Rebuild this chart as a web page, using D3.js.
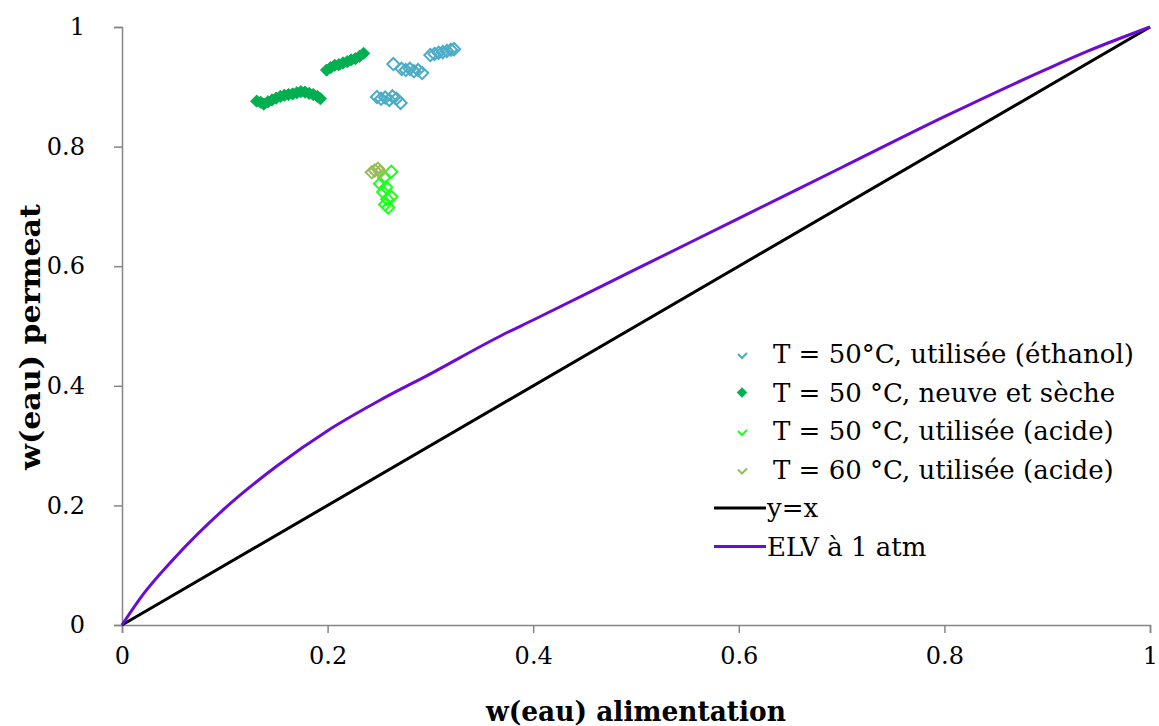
<!DOCTYPE html>
<html><head><meta charset="utf-8">
<script src="https://cdn.jsdelivr.net/npm/d3@7"></script>
<style>body{margin:0;background:#fff}svg{display:block}</style>
</head><body>
<svg id="c" width="1159" height="726"></svg>
<script>
const xTicks = [0, 0.2, 0.4, 0.6, 0.8, 1];
const yTicks = [0, 0.2, 0.4, 0.6, 0.8, 1];
const xTickLabels = ["0", "0.2", "0.4", "0.6", "0.8", "1"];
const yTickLabels = ["0", "0.2", "0.4", "0.6", "0.8", "1"];
const seriesNames = ["T = 50°C, utilisée (éthanol)", "T = 50 °C, neuve et sèche", "T = 50 °C, utilisée (acide)", "T = 60 °C, utilisée (acide)", "y=x", "ELV à 1 atm"];

const ethanolX = [0.248,0.252,0.256,0.260,0.263,0.267,0.271, 0.264,0.272,0.276,0.280,0.284,0.288,0.292, 0.300,0.304,0.308,0.312,0.316,0.320,0.323];
const ethanolY = [0.883,0.880,0.882,0.878,0.884,0.880,0.873, 0.938,0.930,0.928,0.930,0.926,0.928,0.923, 0.953,0.955,0.957,0.958,0.960,0.962,0.963];

const neuveX = [0.131,0.135,0.138,0.142,0.146,0.150,0.154,0.158,0.162,0.166,0.170,0.174,0.178,0.182,0.186,0.190,0.193, 0.199,0.203,0.207,0.211,0.215,0.219,0.223,0.227,0.231,0.235];
const neuveY = [0.876,0.874,0.871,0.875,0.878,0.881,0.884,0.886,0.887,0.888,0.890,0.892,0.891,0.889,0.887,0.884,0.880, 0.928,0.932,0.936,0.937,0.940,0.942,0.945,0.947,0.951,0.956];

const acide50X = [0.262,0.255,0.251,0.257,0.254,0.262,0.258,0.256,0.259];
const acide50Y = [0.758,0.748,0.738,0.732,0.724,0.716,0.712,0.703,0.698];

const acide60X = [0.243,0.246,0.249,0.251];
const acide60Y = [0.757,0.760,0.763,0.758];

const diagX = [0, 1];
const diagY = [0, 1];

const elvX = [0, 0.02, 0.05, 0.1, 0.15, 0.2, 0.25, 0.3, 0.37, 0.4, 0.5, 0.6, 0.7, 0.8, 0.9, 0.94, 1];
const elvY = [0, 0.05, 0.11, 0.195, 0.265, 0.325, 0.375, 0.42, 0.485, 0.51, 0.595, 0.68, 0.765, 0.85, 0.93, 0.96, 1];

const colors = {eth:"#4BACC6", neuve:"#00B050", a50:"#1EFF1E", a60:"#9BBB59", diag:"#000000", elv:"#6A0BD6"};

const svg = d3.select("#c");
const x = d3.scaleLinear().domain([0,1]).range([122,1150]);
const y = d3.scaleLinear().domain([0,1]).range([625,27]);
const serif = "DejaVu Serif";
const axisColor = "#868686";

// axes
const xa = svg.append("g").attr("transform","translate(0,625)")
  .call(d3.axisBottom(x).tickValues(xTicks).tickFormat((d,i)=>xTickLabels[i]).tickSize(8).tickPadding(14));
const ya = svg.append("g").attr("transform","translate(122,0)")
  .call(d3.axisLeft(y).tickValues(yTicks).tickFormat((d,i)=>yTickLabels[i]).tickSize(8).tickPadding(29));
[xa,ya].forEach(g=>{
  g.attr("font-family",serif).attr("font-size",24);
  g.selectAll("path,line").attr("stroke",axisColor).attr("stroke-width",1.5);
  g.selectAll("text").attr("fill","#000");
});

// axis titles
svg.append("text").attr("x",636).attr("y",721).attr("text-anchor","middle")
  .attr("font-family",serif).attr("font-weight","bold").attr("font-size",27)
  .attr("textLength",300).attr("lengthAdjust","spacingAndGlyphs").text("w(eau) alimentation");
svg.append("text").attr("transform","translate(40,337) rotate(-90)").attr("text-anchor","middle")
  .attr("font-family",serif).attr("font-weight","bold").attr("font-size",27)
  .attr("textLength",266).attr("lengthAdjust","spacingAndGlyphs").text("w(eau) permeat");

// lines
const line = d3.line().x(d=>x(d[0])).y(d=>y(d[1]));
svg.append("path").datum(diagX.map((v,i)=>[v,diagY[i]])).attr("d",line)
  .attr("fill","none").attr("stroke",colors.diag).attr("stroke-width",3);
svg.append("path").datum(elvX.map((v,i)=>[v,elvY[i]])).attr("d",line.curve(d3.curveMonotoneX))
  .attr("fill","none").attr("stroke",colors.elv).attr("stroke-width",3);

// markers
const dia = d3.symbol().type(d3.symbolDiamond2).size(95);
function pts(xs, ys, col, filled){
  svg.append("g").selectAll("path").data(xs.map((v,i)=>[v,ys[i]])).join("path")
    .attr("d",dia).attr("transform",d=>`translate(${x(d[0])},${y(d[1])})`)
    .attr("fill",filled?col:"none").attr("stroke",col).attr("stroke-width",filled?1:2);
}
pts(ethanolX, ethanolY, colors.eth, false);
pts(neuveX, neuveY, colors.neuve, true);
pts(acide50X, acide50Y, colors.a50, false);
pts(acide60X, acide60Y, colors.a60, false);

// legend
const lg = svg.append("g").attr("font-family",serif).attr("font-size",26);
const rows = [
  {t:seriesNames[0], c:colors.eth, k:"open"},
  {t:seriesNames[1], c:colors.neuve, k:"fill"},
  {t:seriesNames[2], c:colors.a50, k:"open"},
  {t:seriesNames[3], c:colors.a60, k:"open"},
  {t:seriesNames[4], c:colors.diag, k:"line"},
  {t:seriesNames[5], c:colors.elv, k:"line"}
];
rows.forEach((r,i)=>{
  const yy = 354 + i*38.5;
  if(r.k==="line"){
    lg.append("line").attr("x1",714).attr("x2",766).attr("y1",yy).attr("y2",yy).attr("stroke",r.c).attr("stroke-width",3);
    lg.append("text").attr("x",767).attr("y",yy+9).text(r.t);
  } else {
    if(r.k==="fill"){
      lg.append("path").attr("d",d3.symbol().type(d3.symbolDiamond2).size(70)).attr("transform",`translate(742,${yy})`).attr("fill",r.c);
    } else {
      lg.append("path").attr("d","M-4,0 L0,4 L5,-1").attr("transform",`translate(742,${yy})`)
        .attr("fill","none").attr("stroke",r.c).attr("stroke-width",2);
    }
    lg.append("text").attr("x",773).attr("y",yy+9).text(r.t);
  }
});
</script>
</body></html>
